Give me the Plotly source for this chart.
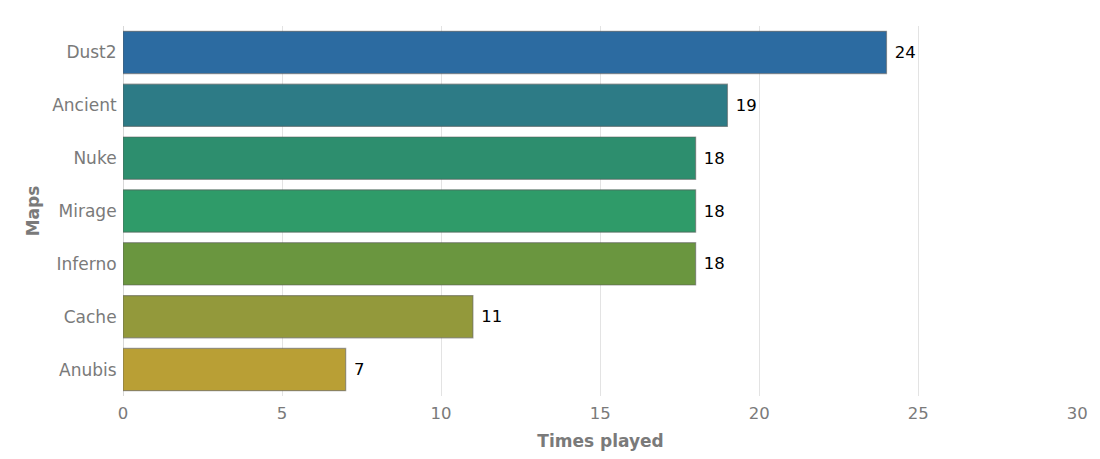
import plotly.graph_objects as go

# Дані
maps = ["Dust2", "Ancient", "Nuke", "Mirage", "Inferno", "Cache", "Anubis"]
times_played = [24, 19, 18, 18, 18, 11, 7]
bar_colors = ["#2c6ba1", "#2d7b86", "#2d8e6e", "#2f9b69", "#6a963f", "#93993b", "#b99f35"]

fig = go.Figure()

fig.add_trace(go.Bar(
    x=times_played,
    y=maps,
    orientation="h",
    marker=dict(
        color=bar_colors,
        line=dict(color="rgba(90,90,90,0.55)", width=1.2),
    ),
    text=times_played,
    texttemplate="\u00a0%{text}",
    textposition="outside",
    textfont=dict(color="black", size=16.5),
    cliponaxis=False,
    hoverinfo="none",
))

fig.update_layout(
    width=1100,
    height=459,
    margin=dict(l=123, r=17, t=26, b=62),
    plot_bgcolor="white",
    paper_bgcolor="white",
    font=dict(family="DejaVu Sans, Verdana, sans-serif", size=17, color="#7a7a7a"),
    bargap=0.2,
    showlegend=False,
    xaxis=dict(
        title=dict(text="<b>Times played</b>", font=dict(size=17, color="#7a7a7a"), standoff=13),
        range=[0, 30.02],
        dtick=5,
        showgrid=True,
        gridcolor="#e3e3e3",
        gridwidth=1,
        zeroline=True,
        zerolinecolor="#d8d8d8",
        zerolinewidth=1,
        tickfont=dict(size=16.5, color="#7a7a7a"),
        ticklabelstandoff=5,
        ticklabeloverflow="allow",
    ),
    yaxis=dict(
        title=dict(text="<b>Maps</b>", font=dict(size=17, color="#7a7a7a"), standoff=8),
        categoryorder="array",
        categoryarray=maps[::-1],
        tickfont=dict(size=17, color="#7a7a7a"),
        ticksuffix=" ",
        showgrid=False,
    ),
)

# прибираємо відступ сторінки, щоб графік стояв рівно у вікні
fig.write_html(
    "out.html",
    config={"displayModeBar": False},
    post_script="document.body.style.margin='0';document.body.style.overflow='hidden';",
)
